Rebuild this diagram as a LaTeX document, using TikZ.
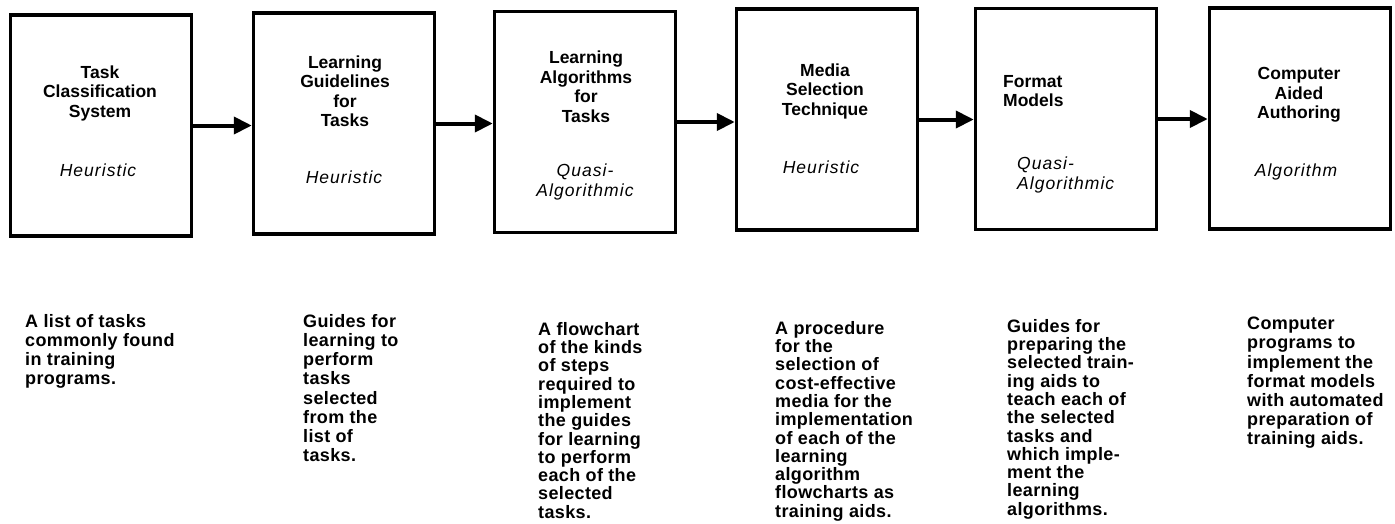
\documentclass[tikz,border=0pt]{standalone}
\usepackage{fontspec}
\setmainfont{Liberation Sans}
\usetikzlibrary{arrows.meta}

\tikzset{
    stage/.style={draw, line width=3.5pt, minimum width=181pt, minimum height=221pt, inner sep=0pt},
    title/.style={font=\bfseries\fontsize{17.5}{19.5}\selectfont, align=center, inner sep=0pt},
    kind/.style={font=\itshape\fontsize{17.5}{20}\selectfont\addfontfeature{LetterSpace=6}, align=center, inner sep=0pt},
    desc/.style={font=\bfseries\fontsize{18}{19.2}\selectfont\addfontfeature{LetterSpace=2}, align=left, anchor=north west, inner sep=0pt},
    tight/.style={font=\bfseries\fontsize{18}{18.3}\selectfont\addfontfeature{LetterSpace=2}},
    flow/.style={line width=4pt, -{Triangle[length=18pt,width=17pt]}},
}

\begin{document}
\begin{tikzpicture}[x=1pt, y=-1pt]
                    % Boxes, labels and arrows:
                    \useasboundingbox (0,0) rectangle (1395,523);
                    \node[stage] (task) at (101,125.5) {};
                    \node[stage] (guide) at (344,123.5) {};
                    \node[stage] (algo) at (585,122) {};
                    \node[stage] (media) at (827,119.5) {};
                    \node[stage] (format) at (1066,119) {};
                    \node[stage] (cai) at (1300,118.5) {};
                    \node[title] (task-t) at (100,93) {Task\\Classification\\System};
                    \node[title] (guide-t) at (345,91) {Learning\\Guidelines\\for\\Tasks};
                    \node[title] (algo-t) at (586,86.5) {Learning\\Algorithms\\for\\Tasks};
                    \node[title] (media-t) at (825,91) {Media\\Selection\\Technique};
                    \node[title, anchor=west, align=left] (format-t) at (1003,91) {Format\\Models};
                    \node[title] (cai-t) at (1299,95) {Computer\\Aided\\Authoring};
                    \node[kind] (task-k) at (98,170) {Heuristic};
                    \node[kind] (guide-k) at (344,177) {Heuristic};
                    \node[kind] (algo-k) at (585,182) {Quasi-\\Algorithmic};
                    \node[kind] (media-k) at (821,167) {Heuristic};
                    \node[kind, anchor=west, align=left] (format-k) at (1017,175) {Quasi-\\Algorithmic};
                    \node[kind] (cai-k) at (1296,172) {Algorithm};
                    \draw[flow] (task.east) -- (task.east -| guide.west);
                    \draw[flow] (guide.east) -- (guide.east -| algo.west);
                    \draw[flow] (algo.east) -- (algo.east -| media.west);
                    \draw[flow] (media.east) -- (media.east -| format.west);
                    \draw[flow] (format.east) -- (format.east -| cai.west);
                    \node[desc] (task-d) at (25,314) {A list of tasks\\commonly found\\in training\\programs.};
                    \node[desc] (guide-d) at (303,314) {Guides for\\learning to\\perform\\tasks\\selected\\from the\\list of\\tasks.};
                    \node[desc, tight] (algo-d) at (538,322) {A flowchart\\of the kinds\\of steps\\required to\\implement\\the guides\\for learning\\to perform\\each of the\\selected\\tasks.};
                    \node[desc, tight] (media-d) at (775,321) {A procedure\\for the\\selection of\\cost-effective\\media for the\\implementation\\of each of the\\learning\\algorithm\\flowcharts as\\training aids.};
                    \node[desc, tight] (format-d) at (1007,319) {Guides for\\preparing the\\selected train-\\ing aids to\\teach each of\\the selected\\tasks and\\which imple-\\ment the\\learning\\algorithms.};
                    \node[desc] (cai-d) at (1247,317) {Computer\\programs to\\implement the\\format models\\with automated\\preparation of\\training aids.};
                \end{tikzpicture}
\end{document}
